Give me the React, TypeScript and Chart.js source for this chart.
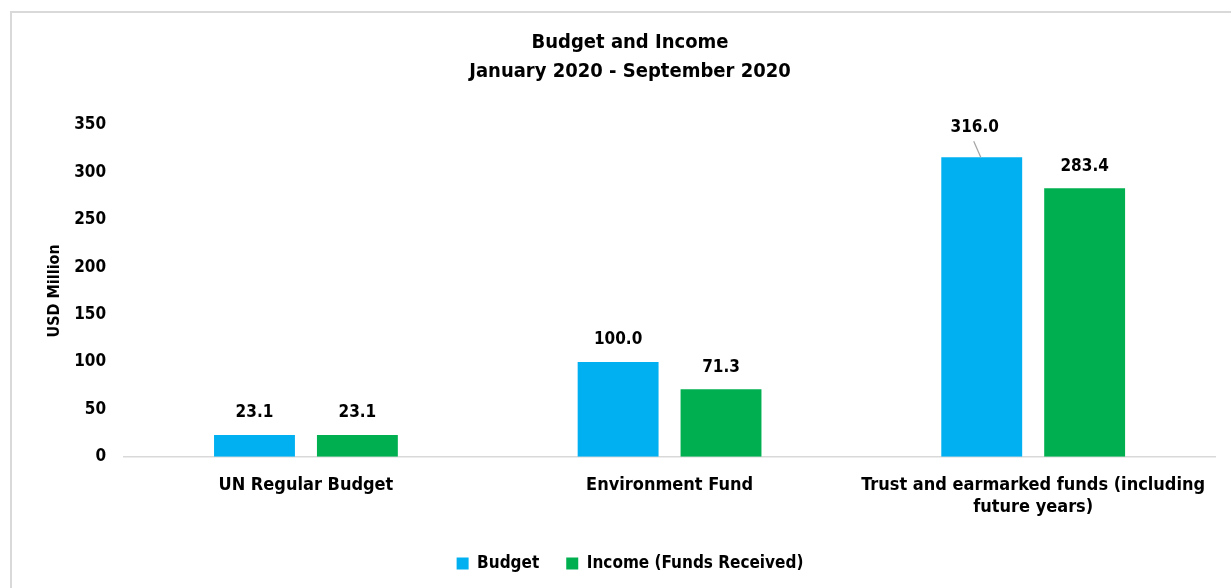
import React, { useEffect, useRef } from "react";
import { Chart, registerables } from "chart.js";

Chart.register(...registerables);

const categories: (string | string[])[] = [
  "UN Regular Budget",
  "Environment Fund",
  ["Trust and earmarked funds (including", "future years)"],
];
const budgetValues = [23.1, 100.0, 316.0];
const incomeValues = [23.1, 71.3, 283.4];
const seriesNames = ["Budget", "Income (Funds Received)"];
const titleLines = ["Budget and Income", "January 2020 - September 2020"];
const yAxisTitle = "USD Million";

const FONT = "'DejaVu Sans Condensed', 'Liberation Sans Narrow', 'Roboto Condensed', 'DejaVu Sans', sans-serif";

const labelPlugin = {
  id: "valueLabels",
  afterDatasetsDraw(chart: any) {
    const ctx = chart.ctx;
    ctx.save();
    ctx.font = `bold 17px ${FONT}`;
    ctx.fillStyle = "#000";
    ctx.textAlign = "center";
    ctx.textBaseline = "middle";
    chart.data.datasets.forEach((ds: any, di: number) => {
      const meta = chart.getDatasetMeta(di);
      meta.data.forEach((el: any, i: number) => {
        const v = ds.data[i] as number;
        const text = v.toFixed(1);
        if (di === 0 && i === 2) {
          ctx.fillText(text, el.x - 7, el.y - 30);
          ctx.strokeStyle = "#a6a6a6";
          ctx.lineWidth = 1.2;
          ctx.beginPath();
          ctx.moveTo(el.x - 8, el.y - 16);
          ctx.lineTo(el.x - 1, el.y);
          ctx.stroke();
        } else {
          ctx.fillText(text, el.x, el.y - 22);
        }
      });
    });
    ctx.restore();
  },
};

export default function App() {
  const ref = useRef<HTMLCanvasElement>(null);
  useEffect(() => {
    if (!ref.current) return;
    const chart = new Chart(ref.current, {
      type: "bar",
      data: {
        labels: categories,
        datasets: [
          {
            label: seriesNames[0],
            data: budgetValues,
            backgroundColor: "#00B0F0",
            categoryPercentage: 0.566,
            barPercentage: 0.786,
          },
          {
            label: seriesNames[1],
            data: incomeValues,
            backgroundColor: "#00B050",
            categoryPercentage: 0.566,
            barPercentage: 0.786,
          },
        ],
      },
      options: {
        animation: false,
        responsive: false,
        maintainAspectRatio: false,
        layout: { padding: { left: 45, right: 16, top: 9, bottom: 6 } },
        scales: {
          x: {
            grid: { display: false },
            border: { display: true, color: "#d9d9d9", width: 1.5 },
            ticks: {
              color: "#000",
              font: { family: FONT, size: 18, weight: "bold" },
              padding: 10,
              maxRotation: 0,
              autoSkip: false,
            },
          },
          y: {
            min: 0,
            max: 350,
            grid: { display: false },
            border: { display: false },
            ticks: {
              stepSize: 50,
              color: "#000",
              font: { family: FONT, size: 17, weight: "bold" },
              padding: 10,
            },
            title: {
              display: true,
              text: yAxisTitle,
              color: "#000",
              font: { family: FONT, size: 16, weight: "bold" },
              padding: { top: 0, bottom: 0 },
            },
          },
        },
        plugins: {
          title: {
            display: true,
            text: titleLines,
            color: "#000",
            font: { family: FONT, size: 20, weight: "bold", lineHeight: 1.45 },
            padding: { top: 19, bottom: 39 },
          },
          legend: {
            position: "bottom",
            labels: {
              color: "#000",
              font: { family: FONT, size: 17, weight: "bold" },
              boxWidth: 12,
              boxHeight: 12,
              padding: 27,
            },
          },
          tooltip: { enabled: false },
        },
      },
      plugins: [labelPlugin],
    });
    return () => chart.destroy();
  }, []);
  return (
    <div style={{ position: "fixed", left: 0, top: 0, width: 1231, height: 588, background: "#fff", overflow: "hidden" }}>
      <div
        style={{
          position: "absolute",
          left: 10,
          top: 11,
          width: 1240,
          height: 600,
          border: "2px solid #d9d9d9",
          boxSizing: "border-box",
        }}
      />
      <canvas ref={ref} width={1231} height={588} style={{ position: "absolute", left: 0, top: 0 }} />
    </div>
  );
}
